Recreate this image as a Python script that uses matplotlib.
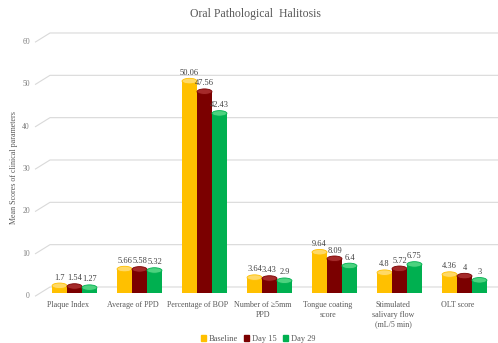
import numpy as np
import matplotlib
matplotlib.use('Agg')
import matplotlib.pyplot as plt
import matplotlib.patches as mpatches

categories = ['Plaque Index', 'Average of PPD', 'Percentage of BOP',
              'Number of \u22655mm\nPPD', 'Tongue coating\nscore',
              'Stimulated\nsalivary flow\n(mL/5 min)', 'OLT score']
series_names = ['Baseline', 'Day 15', 'Day 29']
baseline = [1.7, 5.66, 50.06, 3.64, 9.64, 4.8, 4.36]
day15 = [1.54, 5.58, 47.56, 3.43, 8.09, 5.72, 4]
day29 = [1.27, 5.32, 42.43, 2.9, 6.4, 6.75, 3]
value_text = [
    ['1.7', '5.66', '50.06', '3.64', '9.64', '4.8', '4.36'],
    ['1.54', '5.58', '47.56', '3.43', '8.09', '5.72', '4'],
    ['1.27', '5.32', '42.43', '2.9', '6.4', '6.75', '3'],
]
y_ticks = [0, 10, 20, 30, 40, 50, 60]

colors = ['#FFC000', '#7B0000', '#00B050']
caps = ['#FFD966', '#A52A2A', '#4CD27F']
grid_c = '#D9D9D9'
txt_c = '#595959'
font = 'Liberation Serif'

W, H = 498, 343
fig = plt.figure(figsize=(W / 100, H / 100), dpi=100)
ax = fig.add_axes([35.5 / W, 50 / H, (W - 35.5) / W, 254 / H])
ax.set_xlim(-0.5, -0.5 + (W - 35.5) / 65)
ax.set_ylim(0, 60)
ax.axis('off')

# perspective gridlines: short diagonal from the label, then along the back wall
back = 1.42
wall_x = -0.5 + (50 - 35.5) / 65
for v in y_ticks:
    ax.plot([-0.5, wall_x, 10], [v - 0.7, v + back, v + back],
            color=grid_c, lw=0.8, clip_on=False, zorder=0)
    ax.text(-0.585, v - 0.7, str(v), ha='right', va='center', fontsize=5.5,
            color='#7F7F7F', family=font)

x = np.arange(len(categories))
bw = 0.23
offset = 0.1
ell_h = 1.3
all_vals = [baseline, day15, day29]
for s, vals in enumerate(all_vals):
    xs = x + offset + (s - 1) * bw
    for xi, v, lab in zip(xs, vals, value_text[s]):
        ax.add_patch(mpatches.Ellipse((xi, 0), bw, ell_h, facecolor=colors[s],
                                      edgecolor='none', zorder=2 + s))
        ax.add_patch(mpatches.Rectangle((xi - bw / 2, 0), bw, v,
                                        facecolor=colors[s], edgecolor='none',
                                        zorder=2 + s))
        ax.add_patch(mpatches.Ellipse((xi, v), bw, ell_h, facecolor=caps[s],
                                      edgecolor=colors[s], lw=0.6, zorder=2 + s))
        ax.text(xi, v + 1.0, lab, ha='center', va='bottom', fontsize=6,
                color='#404040', family=font, zorder=10)

for xi, c in zip(x, categories):
    ax.text(xi, -2.0, c, ha='center', va='top', fontsize=5.8, color=txt_c,
            family=font, linespacing=1.25)

fig.text(255 / W, 1 - 14 / H, 'Oral Pathological  Halitosis', ha='center',
         va='center', fontsize=8.5, color=txt_c, family=font)
fig.text(14 / W, 1 - 168 / H, 'Mean Scores of clinical parameters',
         rotation=90, ha='center', va='center', fontsize=5.8, color=txt_c,
         family=font)

handles = [mpatches.Patch(color=c, label=n) for c, n in zip(colors, series_names)]
fig.legend(handles=handles, loc='center', bbox_to_anchor=(258 / W, 4 / H),
           ncol=3, frameon=False, fontsize=6, handlelength=0.6,
           handleheight=0.6, handletextpad=0.3, columnspacing=0.8,
           prop={'family': font, 'size': 6}, labelcolor=txt_c)

fig.savefig('out.png', dpi=100)
